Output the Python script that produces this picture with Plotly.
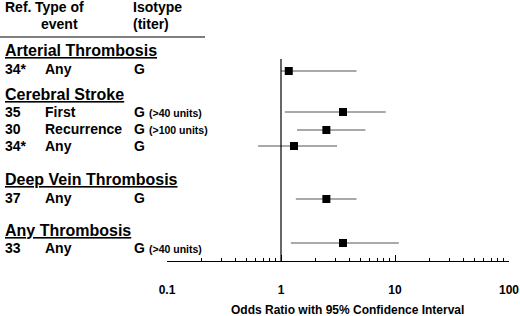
import plotly.graph_objects as go

# ---------------- data ----------------
groups = ["Arterial Thrombosis", "Cerebral Stroke", "Deep Vein Thrombosis", "Any Thrombosis"]
refs = ["34*", "35", "30", "34*", "37", "33"]
events = ["Any", "First", "Recurrence", "Any", "Any", "Any"]
isotypes = ["G", "G", "G", "G", "G", "G"]
titers = ["", "(>40 units)", "(>100 units)", "", "", "(>40 units)"]
odds = [1.17, 3.5, 2.5, 1.3, 2.5, 3.5]
ci_low = [1.0, 1.08, 1.38, 0.63, 1.35, 1.22]
ci_high = [4.6, 8.3, 5.5, 3.1, 4.6, 10.8]
tick_values = [0.1, 1, 10, 100]
tick_labels = ["0.1", "1", "10", "100"]
minor_values = [m * d for d in (0.1, 1, 10) for m in range(2, 10)]
x_title = "Odds Ratio with 95% Confidence Interval"

# ---------------- layout constants (pixels) ----------------
W, H = 520, 316
PL, PR = 167, 509          # plot area left / right
PT, PB = 59, 261           # plot area top / bottom
marker_y = [71, 112, 130, 146, 199, 243]
text_y = [69, 112, 129, 146, 198, 248]
heading_y = [51, 94, 179, 230]
col_ref, col_event, col_iso, col_titer = 3, 43, 132, 147

def px(xp):
    return (xp - PL) / (PR - PL)

def py(yp):
    return (PB - yp) / (PB - PT)

FONT = "Liberation Sans, Arial, sans-serif"

fig = go.Figure()
fig.add_trace(go.Scatter(
    x=odds, y=marker_y, mode="markers",
    marker=dict(symbol="square", size=8, color="black"),
    error_x=dict(type="data", symmetric=False,
                 array=[h - o for h, o in zip(ci_high, odds)],
                 arrayminus=[o - l for o, l in zip(odds, ci_low)],
                 width=0, color="#555555", thickness=1.2),
    cliponaxis=False, showlegend=False, hoverinfo="skip",
))

ann = []
def add_text(x, y, text, size, underline=False, anchor="left"):
    f = dict(family=FONT, size=size, color="black", weight="bold")
    if underline:
        f["lineposition"] = "under"
    ann.append(dict(x=px(x), xref="paper", y=py(y), yref="paper", text=text,
                    showarrow=False, xanchor=anchor, yanchor="middle", font=f))

# headers
add_text(3, 7, "Ref.", 14)
add_text(33, 7, "Type of", 14)
add_text(39, 24, "event", 14)
add_text(131, 7, "Isotype", 14)
add_text(131, 24, "(titer)", 14)

for g, y in zip(groups, heading_y):
    add_text(3, y, g, 16, underline=True)

for i in range(len(refs)):
    y = text_y[i]
    add_text(col_ref, y, refs[i], 14)
    add_text(col_event, y, events[i], 14)
    add_text(col_iso, y, isotypes[i], 14)
    if titers[i]:
        add_text(col_titer, y + 1, titers[i], 10.5)

# axis title
add_text(347, 310, x_title, 12, anchor="center")

shapes = [
    dict(type="line", xref="paper", yref="paper", x0=px(0), x1=px(205), y0=py(37), y1=py(37),
         line=dict(color="black", width=1.2)),
    dict(type="line", xref="x", yref="paper", x0=1, x1=1, y0=0, y1=1,
         line=dict(color="black", width=1.2)),
]

fig.update_layout(
    template="none",
    width=W, height=H,
    margin=dict(l=PL, r=W - PR, t=PT, b=H - PB, pad=0, autoexpand=False),
    paper_bgcolor="white", plot_bgcolor="white",
    annotations=ann, shapes=shapes,
    xaxis=dict(type="log", range=[-1, 2], showgrid=False, zeroline=False, automargin=False,
               showline=True, linecolor="black", linewidth=1.2,
               tickmode="array", tickvals=tick_values, ticktext=tick_labels,
               ticks="inside", ticklen=6, tickcolor="black", tickwidth=1,
               ticklabelstandoff=17,
               tickfont=dict(family=FONT, size=12, color="black", weight="bold"),
               minor=dict(tickmode="array", tickvals=minor_values, ticks="inside",
                          ticklen=3, tickcolor="black", tickwidth=1, showgrid=False)),
    yaxis=dict(range=[PB, PT], visible=False, showgrid=False, zeroline=False, automargin=False),
)

fig.write_html("out.html", config={"displayModeBar": False},
               post_script="document.body.style.margin='0px';")
